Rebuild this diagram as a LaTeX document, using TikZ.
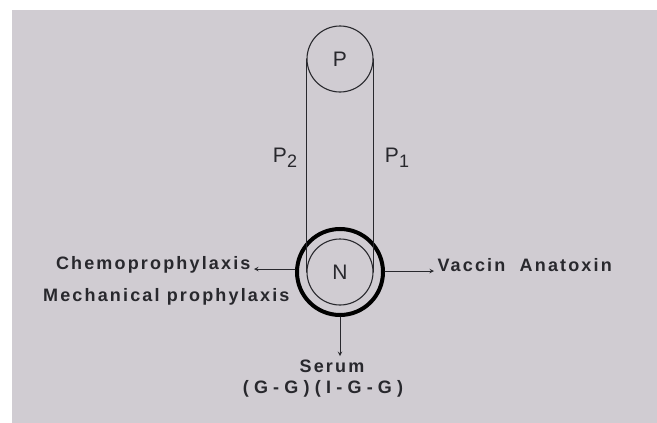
\documentclass[tikz,border=0pt]{standalone}
\usepackage{fontspec}
\setmainfont{Liberation Sans}
\newfontfamily\labfont[LetterSpace=12]{Liberation Sans}
\newfontfamily\widefont[LetterSpace=29]{Liberation Sans}
\usetikzlibrary{positioning}

\begin{document}
\begin{tikzpicture}[x=1pt,y=-1pt,line cap=round,>=stealth,
  pulley/.style={circle,draw=ink,line width=1.1pt,minimum size=66pt,inner sep=0pt,
    font=\fontsize{21}{21}\selectfont,text=ink},
  ringline/.style={circle,draw=black,line width=4pt,minimum size=86pt,inner sep=0pt},
  belt/.style={ink,line width=1pt},
  plabel/.style={font=\fontsize{21}{21}\selectfont,text=ink},
  tlabel/.style={font=\labfont\bfseries\fontsize{18}{18}\selectfont,text=ink},
  outarrow/.style={->,ink,line width=1pt}]
  \definecolor{paper}{RGB}{208,204,210}
  \definecolor{ink}{RGB}{40,40,45}

  % photo background, white margin top and left
  \fill[white] (0,0) rectangle (657,423);
  \fill[paper] (12,10) rectangle (657,423);

  % ---- pulleys ----
  \node[pulley] (P) at (340,59) {P};
  \node[pulley] (N) at (340,272) {N};
  \node[ringline] (ring) at (340,272) {};

  % belt from P down to N
  \draw[belt] (P.west) -- (N.west);
  \draw[belt] (P.east) -- (N.east);
  \node[plabel] (p2) at (285,158) {P\raisebox{-5pt}{\fontsize{18}{18}\selectfont 2}};
  \node[plabel] (p1) at (397,158) {P\raisebox{-5pt}{\fontsize{18}{18}\selectfont 1}};

  % ---- ways out of N ----
  \node[tlabel,anchor=base east] (chemo) at (254,269) {Chemoprophylaxis};
  \node[tlabel,anchor=base east] (mech) at (293,301) {Mechanical prophylaxis};
  \node[tlabel,anchor=base west] (vacc) at (434,271) {Vaccin\ \ Anatoxin};
  \node[tlabel] (serum) at (332,366) {Serum};
  \node[tlabel,font=\widefont\bfseries\fontsize{18}{18}\selectfont,below=1pt of serum,xshift=-9pt] (gg)
    {(G-G)(I-G-G)};

  \draw[outarrow] (ring.west |- chemo.base east) -- (chemo.base east);
  \draw[outarrow] (ring.east |- vacc.base west) -- (vacc.base west);
  \draw[outarrow] (ring.south) -- (ring.south |- serum.north);
\end{tikzpicture}
\end{document}
